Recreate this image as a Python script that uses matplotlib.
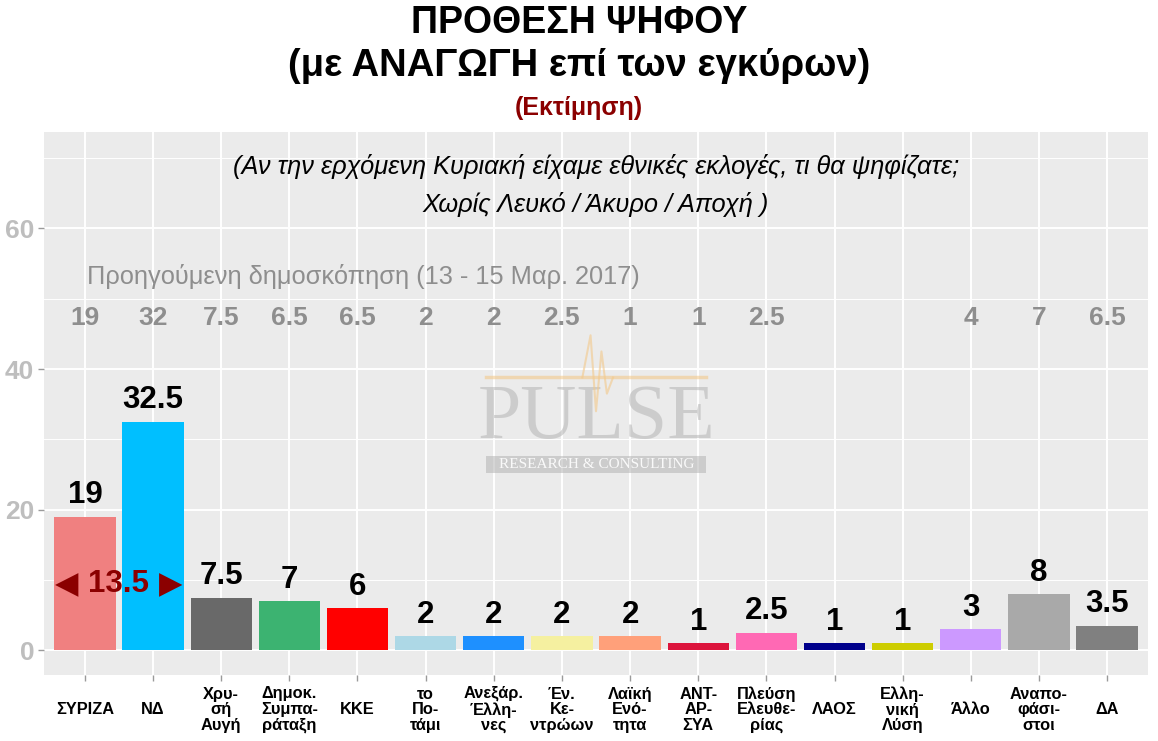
import matplotlib
matplotlib.use("Agg")
import matplotlib.pyplot as plt
from matplotlib.patches import Rectangle
import numpy as np

plt.rcParams['font.family'] = ['Liberation Sans', 'DejaVu Sans']

categories = ["ΣΥΡΙΖΑ", "ΝΔ", "Χρυ-\nσή\nΑυγή", "Δημοκ.\nΣυμπα-\nράταξη", "ΚΚΕ",
              "το\nΠο-\nτάμι", "Ανεξάρ.\nΈλλη-\nνες", "Έν.\nΚε-\nντρώων",
              "Λαϊκή\nΕνό-\nτητα", "ΑΝΤ-\nΑΡ-\nΣΥΑ", "Πλεύση\nΕλευθε-\nρίας", "ΛΑΟΣ",
              "Ελλη-\nνική\nΛύση", "Άλλο", "Αναπο-\nφάσι-\nστοι", "ΔΑ"]
values = [19, 32.5, 7.5, 7, 6, 2, 2, 2, 2, 1, 2.5, 1, 1, 3, 8, 3.5]
previous = ["19", "32", "7.5", "6.5", "6.5", "2", "2", "2.5", "1", "1", "2.5", "", "", "4", "7", "6.5"]
colors = ["#F08080", "#00BFFF", "#696969", "#3CB371", "#FF0000", "#ADD8E6", "#1E90FF",
          "#F5F0A0", "#FFA07A", "#DC143C", "#FF69B4", "#00008B", "#CDCD00", "#CC99FF",
          "#A9A9A9", "#808080"]
gap_value = "13.5"

fig = plt.figure(figsize=(11.58, 7.41), dpi=100)
ax = fig.add_axes([44/1158, 1-675/741, (1148-44)/1158, (675-132)/741])
ax.set_facecolor("#EBEBEB")
for s in ax.spines.values():
    s.set_visible(False)

x = np.arange(1, len(categories)+1)
ax.set_xlim(0.4, 16.6)
ax.set_ylim(-3.5, 73.7)

# grid
for yv in [10, 30, 50, 70]:
    ax.axhline(yv, color="white", lw=0.7, zorder=0)
for yv in [0, 20, 40, 60]:
    ax.axhline(yv, color="white", lw=1.4, zorder=0)
for xv in x:
    ax.axvline(xv, color="white", lw=1.4, zorder=0)

ax.bar(x, values, width=0.9, color=colors, zorder=2)

for xi, v in zip(x, values):
    ax.text(xi, v + 0.9, f"{v:g}", ha="center", va="bottom", fontsize=22.5,
            fontweight="bold", color="black", zorder=3)

for xi, p in zip(x, previous):
    ax.text(xi, 47.2, p, ha="center", va="center", fontsize=19,
            fontweight="bold", color="#8E8E8E", zorder=3)

ax.text(5.08, 53.2, "Προηγούμενη δημοσκόπηση (13 - 15 Μαρ. 2017)", ha="center",
        va="center", fontsize=18.3, color="#8E8E8E", zorder=3)

ax.text(8.5, 68.8, "(Αν την ερχόμενη Κυριακή είχαμε εθνικές εκλογές, τι θα ψηφίζατε;",
        ha="center", va="center", fontsize=18.3, style="italic", color="black")
ax.text(8.5, 63.4, "Χωρίς Λευκό / Άκυρο / Αποχή )",
        ha="center", va="center", fontsize=18.3, style="italic", color="black")

# gap annotation
ax.text(1.5, 9.4, gap_value, ha="center", va="center", fontsize=22.5,
        fontweight="bold", color="#8B0000", zorder=4)
ax.text(0.73, 9.4, "◀", ha="center", va="center", fontsize=22, color="#8B0000",
        family="DejaVu Sans", zorder=4)
ax.text(2.26, 9.4, "▶", ha="center", va="center", fontsize=22, color="#8B0000",
        family="DejaVu Sans", zorder=4)

# watermark
ax.text(8.51, 32.8, "PULSE", ha="center", va="center", fontsize=56,
        family="Liberation Serif", color="#B4B4B4", alpha=0.55, zorder=1)
ax.plot([6.89, 10.12], [38.8, 38.8], color="#F3C98B", lw=2.5, alpha=0.6, zorder=1)
ax.plot([8.3, 8.42, 8.5, 8.58, 8.66, 8.75], [38.8, 44.8, 34.0, 42.5, 36.5, 38.8],
        color="#F3C98B", lw=1.5, alpha=0.6, zorder=1)
ax.add_patch(Rectangle((6.89, 25.2), 10.12-6.89, 2.5, color="#B4B4B4", alpha=0.55,
                       zorder=1, lw=0))
ax.text(8.505, 26.45, "RESEARCH & CONSULTING", ha="center", va="center", fontsize=11,
        family="Liberation Serif", color="white", alpha=0.9, zorder=1)

ax.set_yticks([0, 20, 40, 60])
ax.set_yticklabels(["0", "20", "40", "60"], fontsize=19, fontweight="bold", color="#BEBEBE")
ax.set_xticks(x)
ax.set_xticklabels(categories, fontsize=11.8, fontweight="bold", color="black", va="center",
                   linespacing=1.05)
ax.tick_params(axis="both", color="#9A9A9A", length=4, width=1)
ax.tick_params(axis="x", pad=21)
ax.tick_params(axis="y", pad=3)

# titles
fig.text(0.5, 1-23/741, "ΠΡΟΘΕΣΗ ΨΗΦΟΥ", ha="center", va="center", fontsize=27,
         fontweight="bold", family=["Liberation Sans Narrow", "Liberation Sans"])
fig.text(0.5, 1-66/741, "(με ΑΝΑΓΩΓΗ επί των εγκύρων)", ha="center", va="center", fontsize=27.5,
         fontweight="bold", family=["Liberation Sans Narrow", "Liberation Sans"])
fig.text(0.5, 1-108/741, "(Εκτίμηση)", ha="center", va="center", fontsize=18,
         fontweight="bold", color="#8B0000", family=["Liberation Sans Narrow", "Liberation Sans"])

fig.savefig("out.png", dpi=100, facecolor="white")
